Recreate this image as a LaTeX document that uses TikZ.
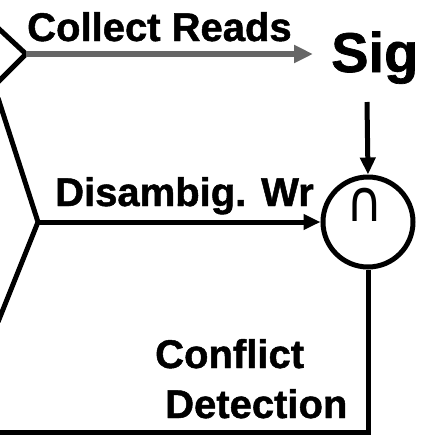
\documentclass[tikz,border=0pt]{standalone}
\usepackage{fontspec}
\setmainfont{TeX Gyre Heros}
\newfontfamily\boldsans[FakeBold=1.2]{Liberation Sans Bold}
\newfontfamily\symfont{DejaVu Sans}
\usetikzlibrary{arrows.meta}
\begin{document}
\begin{tikzpicture}[x=1pt,y=-1pt,
  lbl/.style={font=\boldsans\fontsize{40}{44}\selectfont, inner sep=0pt, anchor=base west},
  ln/.style={line width=5pt, black, line join=miter},
  arr/.style={line width=5pt, black, -{Triangle[length=17pt,width=15pt]}},
  gate/.style={circle, draw=black, line width=5pt, minimum width=90pt, minimum height=90pt, inner sep=0pt, fill=white}]
\useasboundingbox (0,0) rectangle (427,437);
% chevrons
\coordinate (a1) at (-2,28);
\coordinate (v1) at (26,54);
\coordinate (b1) at (-2,82);
\coordinate (a2) at (-2,98);
\coordinate (v2) at (38,222);
\coordinate (b2) at (-2,322);
\coordinate (bl) at (-2,432);
\draw[ln] (a1) -- (v1) -- (b1);
\draw[ln] (a2) -- (v2) -- (b2);
% nodes
\node[gate] (c) at (368,222) {};
\node[inner sep=0pt, anchor=base, font=\symfont\fontsize{50}{50}\selectfont] (cap) at (365,221) {\scalebox{1.0}[1.15]{∩}};
\node[font=\boldsans\fontsize{56}{60}\selectfont, inner sep=0pt, anchor=base west] (sig) at (331,72) {Sig};
\node[lbl] (cr) at (27,41) {Collect Reads};
\node[lbl] (dw) at (55,206) {Disambig. Wr};
\node[lbl] (cf) at (155,368) {Conflict};
\node[lbl] (dt) at (165,418) {Detection};
\coordinate (t1) at (313,54);
\coordinate (s1) at (367,102);
% connectors
\draw[line width=6pt, black!60, -{Triangle[length=19pt,width=17pt]}] (v1) -- (t1);
\draw[arr] (v2) -- (c.west);
\draw[arr] (s1) -- (c.north);
\draw[ln] (c.south) |- (bl);
\end{tikzpicture}
\end{document}
